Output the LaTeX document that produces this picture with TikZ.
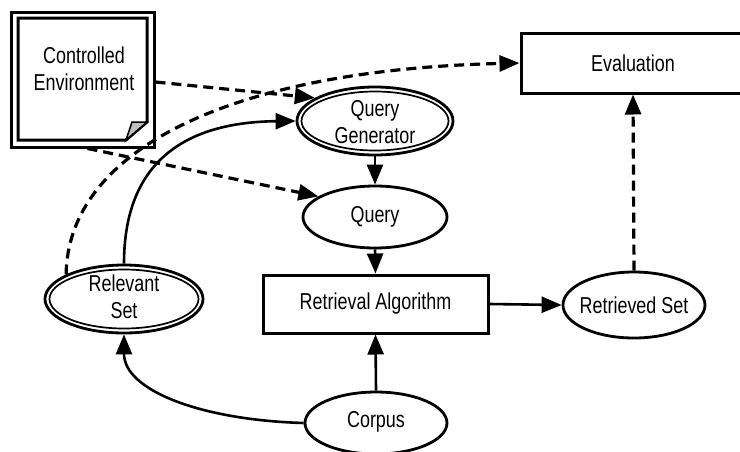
\documentclass[tikz,border=0pt]{standalone}
\usepackage{fontspec}
\setmainfont[FakeStretch=0.78]{Liberation Sans}
\usetikzlibrary{arrows.meta,shapes.geometric}

\tikzset{
  lbl/.style={font=\fontsize{23}{27}\selectfont, align=center, inner sep=0pt},
  boxnode/.style={draw, line width=3pt, rectangle, inner sep=0pt},
  ovalnode/.style={draw, line width=2.8pt, ellipse, inner sep=0pt},
  inneroval/.style={line width=1.7pt},
  arr/.style={line width=2.6pt, -{Triangle[length=20pt,width=16pt]}},
  darr/.style={arr, line width=3.2pt, dash pattern=on 10pt off 6pt},
}

\begin{document}
\begin{tikzpicture}[x=1pt,y=-1pt]
\useasboundingbox (0,0) rectangle (740,451);

% controlled environment: framed note with a folded corner
\node[boxnode, minimum width=143, minimum height=135] (ce) at (82.5,79.5) {};
\draw[line width=3pt, line join=miter] (18,18) -- (147,18) -- (147,122) -- (126,140) -- (18,140) -- cycle;
\draw[line width=1.5pt, fill=black!25] (126,140) -- (132,122) -- (147,122) -- cycle;
\node[lbl] (cetext) at (84,69) {Controlled\\Environment};

% boxes
\node[boxnode, minimum width=224, minimum height=60] (eval) at (633,63) {};
\node[lbl] (evaltext) at (eval.center) {Evaluation};
\node[boxnode, minimum width=225, minimum height=58] (ret) at (375.5,304) {};
\node[lbl] (rettext) at (ret.center) {Retrieval Algorithm};

% ellipses
\node[ovalnode, minimum width=156, minimum height=68] (qg) at (375,121) {};
\draw[inneroval] (qg.center) ellipse [x radius=73.5, y radius=29.5];
\node[lbl] (qgtext) at (375,122) {Query\\Generator};

\node[ovalnode, minimum width=144, minimum height=62] (query) at (375,217) {};
\node[lbl] (querytext) at (query.center) {Query};

\node[ovalnode, minimum width=158, minimum height=68] (rel) at (124,299) {};
\draw[inneroval] (rel.center) ellipse [x radius=74.5, y radius=29.5];
\node[lbl] (reltext) at (124,297) {Relevant\\Set};

\node[ovalnode, minimum width=142, minimum height=66] (rs) at (634,305) {};
\node[lbl] (rstext) at (rs.center) {Retrieved Set};

\node[ovalnode, minimum width=142, minimum height=62] (corpus) at (376,423) {};
\node[lbl] (corpustext) at (376,422) {Corpus};

% solid connectors
\draw[arr] (qg.south) -- (query.north);
\draw[arr] (query.south) -- (ret.north);
\draw[arr] (ret.east) -- (rs.west);
\draw[arr] (corpus.north) -- (ret.south);
\draw[arr] (rel.north) .. controls (124,150) and (200,122) .. (qg.west);
\draw[arr] (corpus.west) .. controls (200,420) and (124,390) .. (rel.south);

% dashed connectors
\draw[darr] ([yshift=-2.5pt]ce.east) -- (qg.159);
\draw[darr] ([xshift=5pt]ce.south) -- (query.160);
\draw[darr] (rel.157) .. controls (68,150) and (230,70) .. (eval.west);
\draw[darr] (rs.north) -- (eval.south);
\end{tikzpicture}
\end{document}
